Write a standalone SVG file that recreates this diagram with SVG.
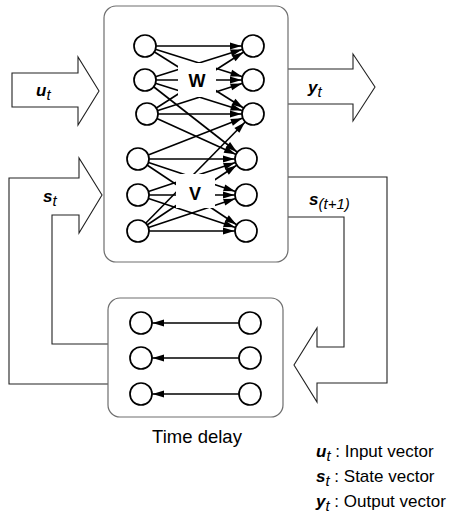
<svg xmlns="http://www.w3.org/2000/svg" width="451" height="519" viewBox="0 0 451 519">
<style>
.box{fill:#fff;stroke:#6e6e6e;stroke-width:1.2}
.barrow{fill:#fff;stroke:#222;stroke-width:1.1}
.n{fill:#fff;stroke:#000;stroke-width:1.7}
.c{stroke:#000;stroke-width:1.6;fill:none;marker-end:url(#ah)}
.lbl{font-family:"Liberation Sans",Arial,sans-serif;font-size:17px;font-weight:bold;font-style:italic;fill:#000}
.sub{font-family:"Liberation Sans",Arial,sans-serif;font-size:15px;font-weight:normal;font-style:italic}
.txt{font-family:"Liberation Sans",Arial,sans-serif;font-size:17px;fill:#000}
.wv{font-family:"Liberation Sans",Arial,sans-serif;font-size:18px;font-weight:bold;fill:#000}
</style>
<defs>
<marker id="ah" markerUnits="userSpaceOnUse" markerWidth="12" markerHeight="8" refX="23" refY="3.5" orient="auto" overflow="visible">
<path d="M0,0 L11.5,3.5 L0,7 z" fill="#000"/>
</marker>
</defs>

<g id="arrow-u">
<polygon class="barrow" points="12,73 78,73 78,57 99,91 78,125 78,107 12,107"/>
<text class="lbl" x="36" y="96">u<tspan class="sub" dy="4">t</tspan></text>
</g>
<g id="arrow-y">
<polygon class="barrow" points="287,69 353,69 353,54 375,87 353,121 353,104 287,104"/>
<text class="lbl" x="308" y="93">y<tspan class="sub" dy="4">t</tspan></text>
</g>
<g id="arrow-s">
<path class="barrow" d="M108,384 L9,384 L9,178 L79,178 L79,158 L102,195 L79,233 L79,215 L52,215 L52,344 L108,344"/>
<text class="lbl" x="43" y="202">s<tspan class="sub" dy="4">t</tspan></text>
</g>
<g id="arrow-s1">
<path class="barrow" d="M288,177 L387,177 L387,383 L317,383 L317,402 L294,365 L317,328 L317,347 L344,347 L344,217 L288,217"/>
<text class="lbl" x="309" y="205">s<tspan class="sub" dy="4">(t+1)</tspan></text>
</g>

<g id="network">
<rect class="box" x="104" y="6" width="184" height="256" rx="12"/>
<g id="connectors">
<line class="c" x1="145" y1="46" x2="253" y2="46"/>
<line class="c" x1="145" y1="46" x2="253" y2="80"/>
<line class="c" x1="145" y1="46" x2="253" y2="114"/>
<line class="c" x1="145" y1="80" x2="253" y2="46"/>
<line class="c" x1="145" y1="80" x2="253" y2="80"/>
<line class="c" x1="145" y1="80" x2="253" y2="114"/>
<line class="c" x1="145" y1="80" x2="246" y2="159"/>
<line class="c" x1="147" y1="114" x2="253" y2="46"/>
<line class="c" x1="147" y1="114" x2="253" y2="80"/>
<line class="c" x1="147" y1="114" x2="253" y2="114"/>
<line class="c" x1="147" y1="114" x2="246" y2="159"/>
<line class="c" x1="138" y1="159" x2="253" y2="114"/>
<line class="c" x1="138" y1="159" x2="246" y2="159"/>
<line class="c" x1="138" y1="159" x2="246" y2="195"/>
<line class="c" x1="138" y1="159" x2="246" y2="231"/>
<line class="c" x1="138" y1="195" x2="246" y2="159"/>
<line class="c" x1="138" y1="195" x2="246" y2="195"/>
<line class="c" x1="138" y1="195" x2="246" y2="231"/>
<line class="c" x1="138" y1="231" x2="253" y2="114"/>
<line class="c" x1="138" y1="231" x2="246" y2="159"/>
<line class="c" x1="138" y1="231" x2="246" y2="195"/>
<line class="c" x1="138" y1="231" x2="246" y2="231"/>
</g>
<g id="label-W">
<rect x="178" y="63" width="38" height="34" fill="#fff"/>
<text class="wv" x="197" y="87" text-anchor="middle">W</text>
</g>
<g id="label-V">
<rect x="176" y="174" width="39" height="34" fill="#fff"/>
<text class="wv" x="195" y="200" text-anchor="middle">V</text>
</g>
<g id="nodes-main">
<circle class="n" cx="145" cy="46" r="11"/>
<circle class="n" cx="145" cy="80" r="11"/>
<circle class="n" cx="147" cy="114" r="11"/>
<circle class="n" cx="138" cy="159" r="11"/>
<circle class="n" cx="138" cy="195" r="11"/>
<circle class="n" cx="138" cy="231" r="11"/>
<circle class="n" cx="253" cy="46" r="11"/>
<circle class="n" cx="253" cy="80" r="11"/>
<circle class="n" cx="253" cy="114" r="11"/>
<circle class="n" cx="246" cy="159" r="11"/>
<circle class="n" cx="246" cy="195" r="11"/>
<circle class="n" cx="246" cy="231" r="11"/>
</g>
</g>

<g id="delay">
<rect class="box" x="108" y="298" width="175" height="119" rx="12"/>
<g id="delay-connectors">
<line class="c" x1="239" y1="323" x2="141" y2="323"/>
<line class="c" x1="239" y1="358" x2="141" y2="358"/>
<line class="c" x1="239" y1="394" x2="141" y2="394"/>
</g>
<circle class="n" cx="141" cy="323" r="11"/>
<circle class="n" cx="141" cy="358" r="11"/>
<circle class="n" cx="141" cy="394" r="11"/>
<circle class="n" cx="250" cy="323" r="11"/>
<circle class="n" cx="250" cy="358" r="11"/>
<circle class="n" cx="250" cy="394" r="11"/>
<text class="txt" x="197" y="443" text-anchor="middle" style="font-size:18.5px">Time delay</text>
</g>

<g id="legend">
<text class="txt" x="316" y="457"><tspan class="lbl">u</tspan><tspan class="sub" dy="4">t</tspan><tspan dy="-4"> : Input vector</tspan></text>
<text class="txt" x="316" y="482"><tspan class="lbl">s</tspan><tspan class="sub" dy="4">t</tspan><tspan dy="-4"> : State vector</tspan></text>
<text class="txt" x="316" y="507"><tspan class="lbl">y</tspan><tspan class="sub" dy="4">t</tspan><tspan dy="-4"> : Output vector</tspan></text>
</g>
</svg>
